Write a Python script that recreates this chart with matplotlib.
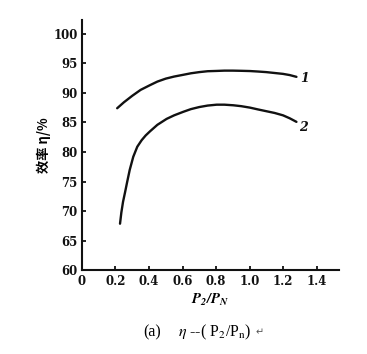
import matplotlib
matplotlib.use("Agg")
import matplotlib.pyplot as plt

plt.rcParams["mathtext.fontset"] = "stix"

# values
x_curve1 = [0.21, 0.25, 0.30, 0.35, 0.406, 0.45, 0.50, 0.55, 0.605, 0.65, 0.70, 0.75, 0.804,
            0.85, 0.90, 0.95, 1.003, 1.05, 1.10, 1.15, 1.20, 1.24, 1.28]
y_curve1 = [87.4, 88.4, 89.5, 90.5, 91.3, 91.9, 92.4, 92.75, 93.05, 93.3, 93.5, 93.65, 93.7,
            93.75, 93.75, 93.72, 93.68, 93.6, 93.5, 93.35, 93.2, 93.0, 92.7]

x_curve2 = [0.227, 0.235, 0.245, 0.257, 0.27, 0.285, 0.306, 0.33, 0.356, 0.38, 0.406, 0.45,
            0.505, 0.55, 0.605, 0.65, 0.70, 0.75, 0.804, 0.85, 0.903, 0.95, 1.003, 1.05,
            1.10, 1.15, 1.20, 1.24, 1.28]
y_curve2 = [67.9, 69.8, 71.6, 73.2, 75.0, 77.0, 79.2, 80.9, 82.0, 82.8, 83.5, 84.6,
            85.6, 86.2, 86.8, 87.25, 87.6, 87.85, 88.0, 88.0, 87.9, 87.75, 87.5, 87.2,
            86.9, 86.6, 86.2, 85.7, 85.1]

x_ticks = [0, 0.2, 0.4, 0.6, 0.8, 1.0, 1.2, 1.4]
x_tick_labels = ["0", "0.2", "0.4", "0.6", "0.8", "1.0", "1.2", "1.4"]
y_ticks = [60, 65, 70, 75, 80, 85, 90, 95, 100]

LINE = "#111111"

fig = plt.figure(figsize=(3.67, 3.54), dpi=100, facecolor="white")
ax = fig.add_axes([0.2234, 0.2359, 0.7003, 0.7076])

ax.plot(x_curve1, y_curve1, color=LINE, lw=1.7, solid_capstyle="round", solid_joinstyle="round")
ax.plot(x_curve2, y_curve2, color=LINE, lw=1.7, solid_capstyle="round", solid_joinstyle="round")

ax.text(1.33, y_curve1[-1] - 0.3, "1", fontsize=9, fontweight="bold", style="italic",
        family="DejaVu Serif", ha="center", va="center", color=LINE)
ax.text(1.32, y_curve2[-1] - 0.9, "2", fontsize=9, fontweight="bold", style="italic",
        family="DejaVu Serif", ha="center", va="center", color=LINE)

ax.set_xlim(0, 1.534)
ax.set_ylim(60, 102.3)
ax.set_xticks(x_ticks)
ax.set_xticklabels(x_tick_labels)
ax.set_yticks(y_ticks)

for side in ("top", "right"):
    ax.spines[side].set_visible(False)
for side in ("left", "bottom"):
    ax.spines[side].set_linewidth(1.5)
    ax.spines[side].set_color(LINE)

ax.tick_params(direction="in", length=3, width=1.3, colors=LINE, labelsize=8.5, pad=3)
for lbl in ax.get_xticklabels() + ax.get_yticklabels():
    lbl.set_fontweight("bold")
    lbl.set_family("DejaVu Serif")

ax.set_xlabel(r"$\mathbfit{P_2/P_N}$", fontsize=10.5, labelpad=3)
ax.set_ylabel("效率 η/%", fontsize=9.5, fontweight="heavy",
              family=["Noto Sans CJK SC", "DejaVu Sans"], labelpad=2)

fig.text(0.39, 0.06, "(a)", fontsize=11.5, family="Liberation Serif", ha="left", va="center")
fig.text(0.485, 0.06, "$\\eta$ --( P$_2$/P$_\\mathrm{n}$)", fontsize=11.5,
         family="Liberation Serif", ha="left", va="center")
fig.text(0.695, 0.06, "\u21b5", fontsize=7, family="DejaVu Sans", ha="left", va="center",
         color="#555555")

fig.savefig("out.png", dpi=100, facecolor="white")
